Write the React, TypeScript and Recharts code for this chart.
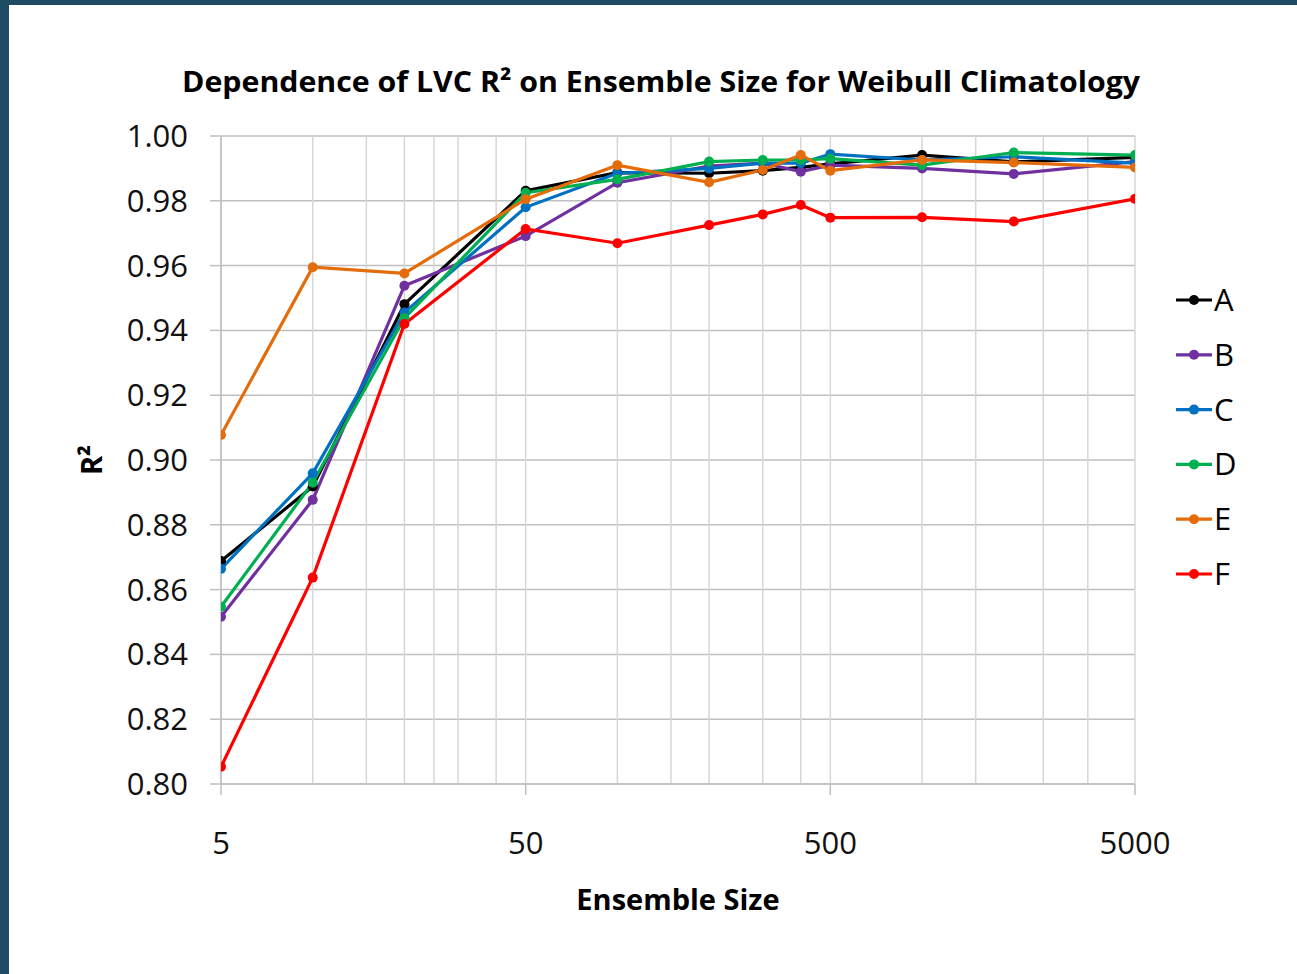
import { LineChart, Line, XAxis, YAxis, CartesianGrid, Label } from 'recharts'

// ensemble sizes sampled
const SIZES = [5, 10, 20, 50, 100, 200, 300, 400, 500, 1000, 2000, 5000]

// LVC R² per climatology variant
const SERIES_A = [0.8688, 0.8918, 0.9481, 0.9831, 0.9887, 0.9885, 0.9893, 0.9903, 0.9914, 0.9941, 0.992, 0.9934]
const SERIES_B = [0.8516, 0.8877, 0.9538, 0.9691, 0.9856, 0.9907, 0.9916, 0.989, 0.991, 0.99, 0.9883, 0.9921]
const SERIES_C = [0.8664, 0.8959, 0.9455, 0.978, 0.9885, 0.99, 0.9916, 0.9916, 0.9944, 0.9926, 0.9936, 0.9916]
const SERIES_D = [0.8547, 0.893, 0.9438, 0.9825, 0.9866, 0.9921, 0.9926, 0.9926, 0.993, 0.991, 0.9949, 0.9941]
const SERIES_E = [0.9077, 0.9595, 0.9576, 0.9805, 0.991, 0.9857, 0.9895, 0.9941, 0.9893, 0.9926, 0.9918, 0.9903]
const SERIES_F = [0.8053, 0.8637, 0.942, 0.9713, 0.9669, 0.9725, 0.9758, 0.9787, 0.9748, 0.9749, 0.9736, 0.9806]

const X_TICKS = [5, 50, 500, 5000]
const X_MINOR = [
  5, 10, 15, 20, 25, 30, 35, 40, 45,
  50, 100, 150, 200, 250, 300, 350, 400, 450,
  500, 1000, 1500, 2000, 2500, 3000, 3500, 4000, 4500, 5000,
]
const Y_TICKS = [0.8, 0.82, 0.84, 0.86, 0.88, 0.9, 0.92, 0.94, 0.96, 0.98, 1.0]

const SERIES = [
  { key: 'A', color: '#000000', values: SERIES_A },
  { key: 'B', color: '#7030a0', values: SERIES_B },
  { key: 'C', color: '#0070c0', values: SERIES_C },
  { key: 'D', color: '#00b050', values: SERIES_D },
  { key: 'E', color: '#e46c0a', values: SERIES_E },
  { key: 'F', color: '#ff0000', values: SERIES_F },
]

const data = SIZES.map((n, i) => {
  const row: Record<string, number> = { n }
  SERIES.forEach((s) => {
    row[s.key] = s.values[i]
  })
  return row
})

const FONT = '"Open Sans", sans-serif'
const gridColor = '#bfbfbf'
const minorColor = '#d6d6d6'
const tickStyle = { fill: '#111', fontSize: 31, fontFamily: FONT }

export default function App() {
  return (
    <div style={{ position: 'absolute', left: 0, top: 0, width: 1297, height: 974, background: '#1e4c64' }}>
      <div style={{ position: 'absolute', left: 9, top: 5, width: 1288, height: 969, background: '#fff' }} />
      <div style={{ position: 'absolute', left: 0, top: 0 }}>
        <LineChart width={1297} height={974} data={data} margin={{ top: 136, right: 162, bottom: 130, left: 71 }}>
          <CartesianGrid horizontal vertical={false} stroke={gridColor} strokeWidth={1.5} />
          <CartesianGrid horizontal={false} vertical verticalValues={X_MINOR} stroke={minorColor} strokeWidth={1.5} />
          <XAxis
            dataKey="n"
            type="number"
            scale="log"
            domain={[5, 5000]}
            ticks={X_TICKS}
            allowDataOverflow
            height={60}
            stroke={gridColor}
            strokeWidth={1.5}
            tickSize={11}
            tickMargin={37}
            tick={tickStyle}
          >
            <Label
              value="Ensemble Size"
              position="bottom"
              offset={45}
              style={{ fontFamily: FONT, fontSize: 29, fontWeight: 700, fill: '#000' }}
            />
          </XAxis>
          <YAxis
            type="number"
            domain={[0.8, 1.0]}
            ticks={Y_TICKS}
            width={150}
            stroke={gridColor}
            strokeWidth={1.5}
            tickSize={11}
            tickMargin={22}
            tick={tickStyle}
            tickFormatter={(v: number) => v.toFixed(2)}
          >
            <Label
              value="R²"
              angle={-90}
              position="insideLeft"
              offset={21}
              style={{ fontFamily: FONT, fontSize: 29, fontWeight: 700, fill: '#000', textAnchor: 'middle' }}
            />
          </YAxis>
          {SERIES.map((s) => (
            <Line
              key={s.key}
              dataKey={s.key}
              stroke={s.color}
              strokeWidth={3.2}
              dot={{ r: 5, fill: s.color, stroke: s.color, strokeWidth: 0 }}
              activeDot={false}
              isAnimationActive={false}
            />
          ))}
        </LineChart>
      </div>
      <svg width={1297} height={974} style={{ position: 'absolute', left: 0, top: 0, pointerEvents: 'none' }}>
        <text
          x={661}
          y={92}
          textAnchor="middle"
          textLength={958}
          lengthAdjust="spacingAndGlyphs"
          style={{ fontFamily: FONT, fontSize: 29, fontWeight: 700, fill: '#000' }}
        >
          Dependence of LVC R² on Ensemble Size for Weibull Climatology
        </text>
        {SERIES.map((s, i) => {
          const cy = 300 + i * 54.8
          return (
            <g key={s.key}>
              <line x1={1176} x2={1212} y1={cy} y2={cy} stroke={s.color} strokeWidth={3.2} />
              <circle cx={1194} cy={cy} r={5} fill={s.color} />
              <text x={1214} y={cy + 11} style={{ fontFamily: FONT, fontSize: 31, fill: '#000' }}>
                {s.key}
              </text>
            </g>
          )
        })}
      </svg>
    </div>
  )
}
